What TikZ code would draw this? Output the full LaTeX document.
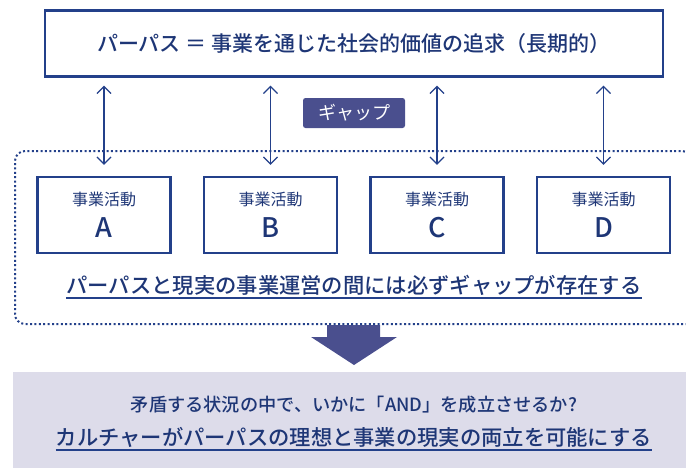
\documentclass[tikz,border=0pt]{standalone}
\usepackage{fontspec}
\setmainfont{Noto Sans CJK JP}
\newfontfamily\medfont{Noto Sans CJK JP Medium}
\usetikzlibrary{arrows.meta}
\definecolor{navy}{HTML}{23408A}
\definecolor{txtnavy}{HTML}{1E3676}
\definecolor{gapfill}{HTML}{4A4F8E}
\definecolor{lav}{HTML}{DDDCEA}
\tikzset{
  x=1pt,y=-1pt,
  fsz/.style={font=\fontsize{#1}{#1}\selectfont\medfont},
  rsz/.style={font=\fontsize{#1}{#1}\selectfont},
  topbox/.style={draw=navy,line width=2.4pt,minimum width=618pt,minimum height=66pt,inner sep=0pt,text=txtnavy},
  actbox/.style={draw=navy,line width=2.4pt,minimum width=133pt,minimum height=76pt,inner sep=0pt},
  gapbox/.style={fill=gapfill,rounded corners=2.5pt,minimum width=102pt,minimum height=30pt,inner sep=0pt,text=white},
  lbl/.style={text=txtnavy,inner sep=0pt},
  dArrow/.style={draw=navy,line width=1.2pt,{Straight Barb[length=7pt,width=14pt]}-{Straight Barb[length=7pt,width=14pt]}},
  dotframe/.style={draw=navy,line width=2pt,line cap=butt,dash pattern=on 2pt off 2.4pt},
  uline/.style={draw=navy,line width=1.4pt},
}
\begin{document}
\begin{tikzpicture}
\useasboundingbox (0,0) rectangle (686,467);
% bottom band
\fill[lav] (13,372) rectangle (700,480);
% big arrow
\fill[gapfill] (327,325) -- (380,325) -- (380,337) -- (397,337) -- (354,365) -- (311,337) -- (327,337) -- cycle;
% dotted frame
\draw[dotframe,rounded corners=10pt] (692,324) -- (15,324) -- (15,151) -- (692,151) -- (692,324);
% top box
\node[topbox,fsz=21] (top) at (353.8,43.5) {パーパス ＝ 事業を通じた社会的価値の追求（長期的）};
% gap label
\node[gapbox,rsz=18] (gap) at (354,113) {ギャップ};
% activity boxes
\foreach \n/\x in {A/104,B/270.5,C/437,D/603.5}{
  \node[actbox] (\n) at (\x,215) {};
  \node[lbl,rsz=16,anchor=center] (\n t) at (\x,199) {事業活動};
  \node[lbl,fsz=27,anchor=center] (\n l) at (\x,228) {\n};
  \coordinate (\n c) at (\n.north |- top.south);
  \draw[dArrow] ([yshift=-8pt]\n c) -- ([yshift=11pt]\n.north);
}
% gap statement
\node[lbl,fsz=21.3] (gs) at (354,285) {パーパスと現実の事業運営の間には必ずギャップが存在する};
\draw[uline] ([yshift=-5pt]gs.base west) -- ([yshift=-5pt]gs.base east);
% bottom texts
\node[lbl,fsz=18.2] (q) at (354,405) {矛盾する状況の中で、いかに「AND」を成立させるか?};
\node[lbl,fsz=21.3] (ans) at (354,437) {カルチャーがパーパスの理想と事業の現実の両立を可能にする};
\draw[uline] ([yshift=-5pt]ans.base west) -- ([yshift=-5pt]ans.base east);
\end{tikzpicture}
\end{document}
